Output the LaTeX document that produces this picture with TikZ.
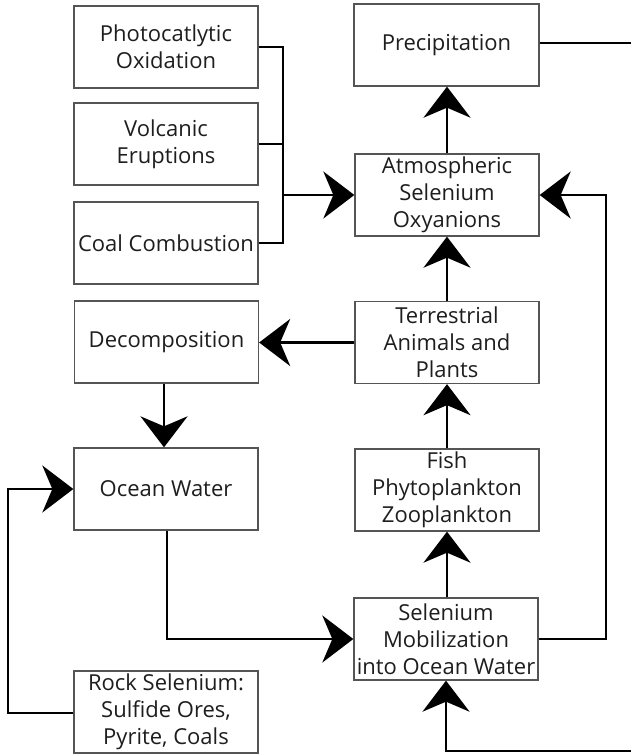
\documentclass[tikz,border=0pt]{standalone}
\usepackage{fontspec}
\setmainfont{Open Sans}
\usetikzlibrary{arrows.meta}
\definecolor{txt}{HTML}{1E1E1E}
\definecolor{frame}{HTML}{555555}
\begin{document}
\begin{tikzpicture}[x=1pt,y=-1pt,
  box/.style={draw=frame,line width=1.3pt,fill=white,minimum width=184pt,minimum height=82pt,
    inner sep=0pt,align=center,text=txt,font=\fontsize{22}{27}\selectfont},
  link/.style={line width=2.9pt,draw=black},
  flow/.style={link,-{Stealth[length=31pt,width=47pt,inset=10pt]}}]
  \useasboundingbox (0,0) rectangle (631,755);

  % sources of atmospheric selenium
  \node[box] (photo) at (166,47) {Photocatlytic\\Oxidation};
  \node[box] (volc) at (166,144) {Volcanic\\Eruptions};
  \node[box] (coal) at (166,243) {\raisebox{-3pt}{Coal Combustion}};

  % right column
  \node[box,minimum width=185pt] (precip) at (446.5,45) {\raisebox{3pt}{Precipitation}};
  \node[box] (atmos) at (447,195) {Atmospheric\\Selenium\\Oxyanions};
  \node[box] (terr) at (447,342.5) {Terrestrial\\Animals and\\Plants};
  \node[box] (fish) at (447,490) {Fish\\Phytoplankton\\Zooplankton};
  \node[box] (mobil) at (446,639) {Selenium\\Mobilization\\into Ocean Water};

  % left column
  \node[box] (decomp) at (166.5,342) {Decomposition};
  \node[box] (ocean) at (166,489) {Ocean Water};
  \node[box] (rock) at (166,712) {Rock Selenium:\\Sulfide Ores,\\Pyrite, Coals};

  % routing points
  \coordinate (bus) at (283,195);
  \coordinate (rightrail) at (606,639);
  \coordinate (leftrail) at (8,713);
  \coordinate (oceandrop) at (167,639);
  \coordinate (precipout) at (631,43);
  \coordinate (bottomin) at (631,751);
  \coordinate (bottomturn) at (446,751);

  % collector from the three sources
  \draw[link] (photo.east |- 0,47) -- (283,47) -- (283,243) -- (coal.east |- 0,243);
  \draw[link] (volc.east) -- (283,144);
  \draw[flow] (bus) -- (atmos.west);

  % vertical chain
  \draw[flow] (atmos.north) -- (precip.south -| atmos.north);
  \draw[flow] (terr.north) -- (atmos.south);
  \draw[flow] (fish.north) -- (terr.south);
  \draw[flow] (mobil.north -| fish.north) -- (fish.south);
  \draw[flow] (terr.west) -- (decomp.east |- terr.west);
  \draw[flow] (decomp.south -| 164,0) -- (ocean.north -| 164,0);

  % loops
  \draw[link] (precip.east |- precipout) -- (precipout);
  \draw[flow] (ocean.south -| oceandrop) -- (oceandrop) -- (mobil.west);
  \draw[flow] (rock.west |- leftrail) -- (leftrail) -- (8,489) -- (ocean.west);
  \draw[flow] (mobil.east) -- (rightrail) -- (606,195) -- (atmos.east);
  \draw[flow] (bottomin) -- (bottomturn) -- (mobil.south);
\end{tikzpicture}
\end{document}
